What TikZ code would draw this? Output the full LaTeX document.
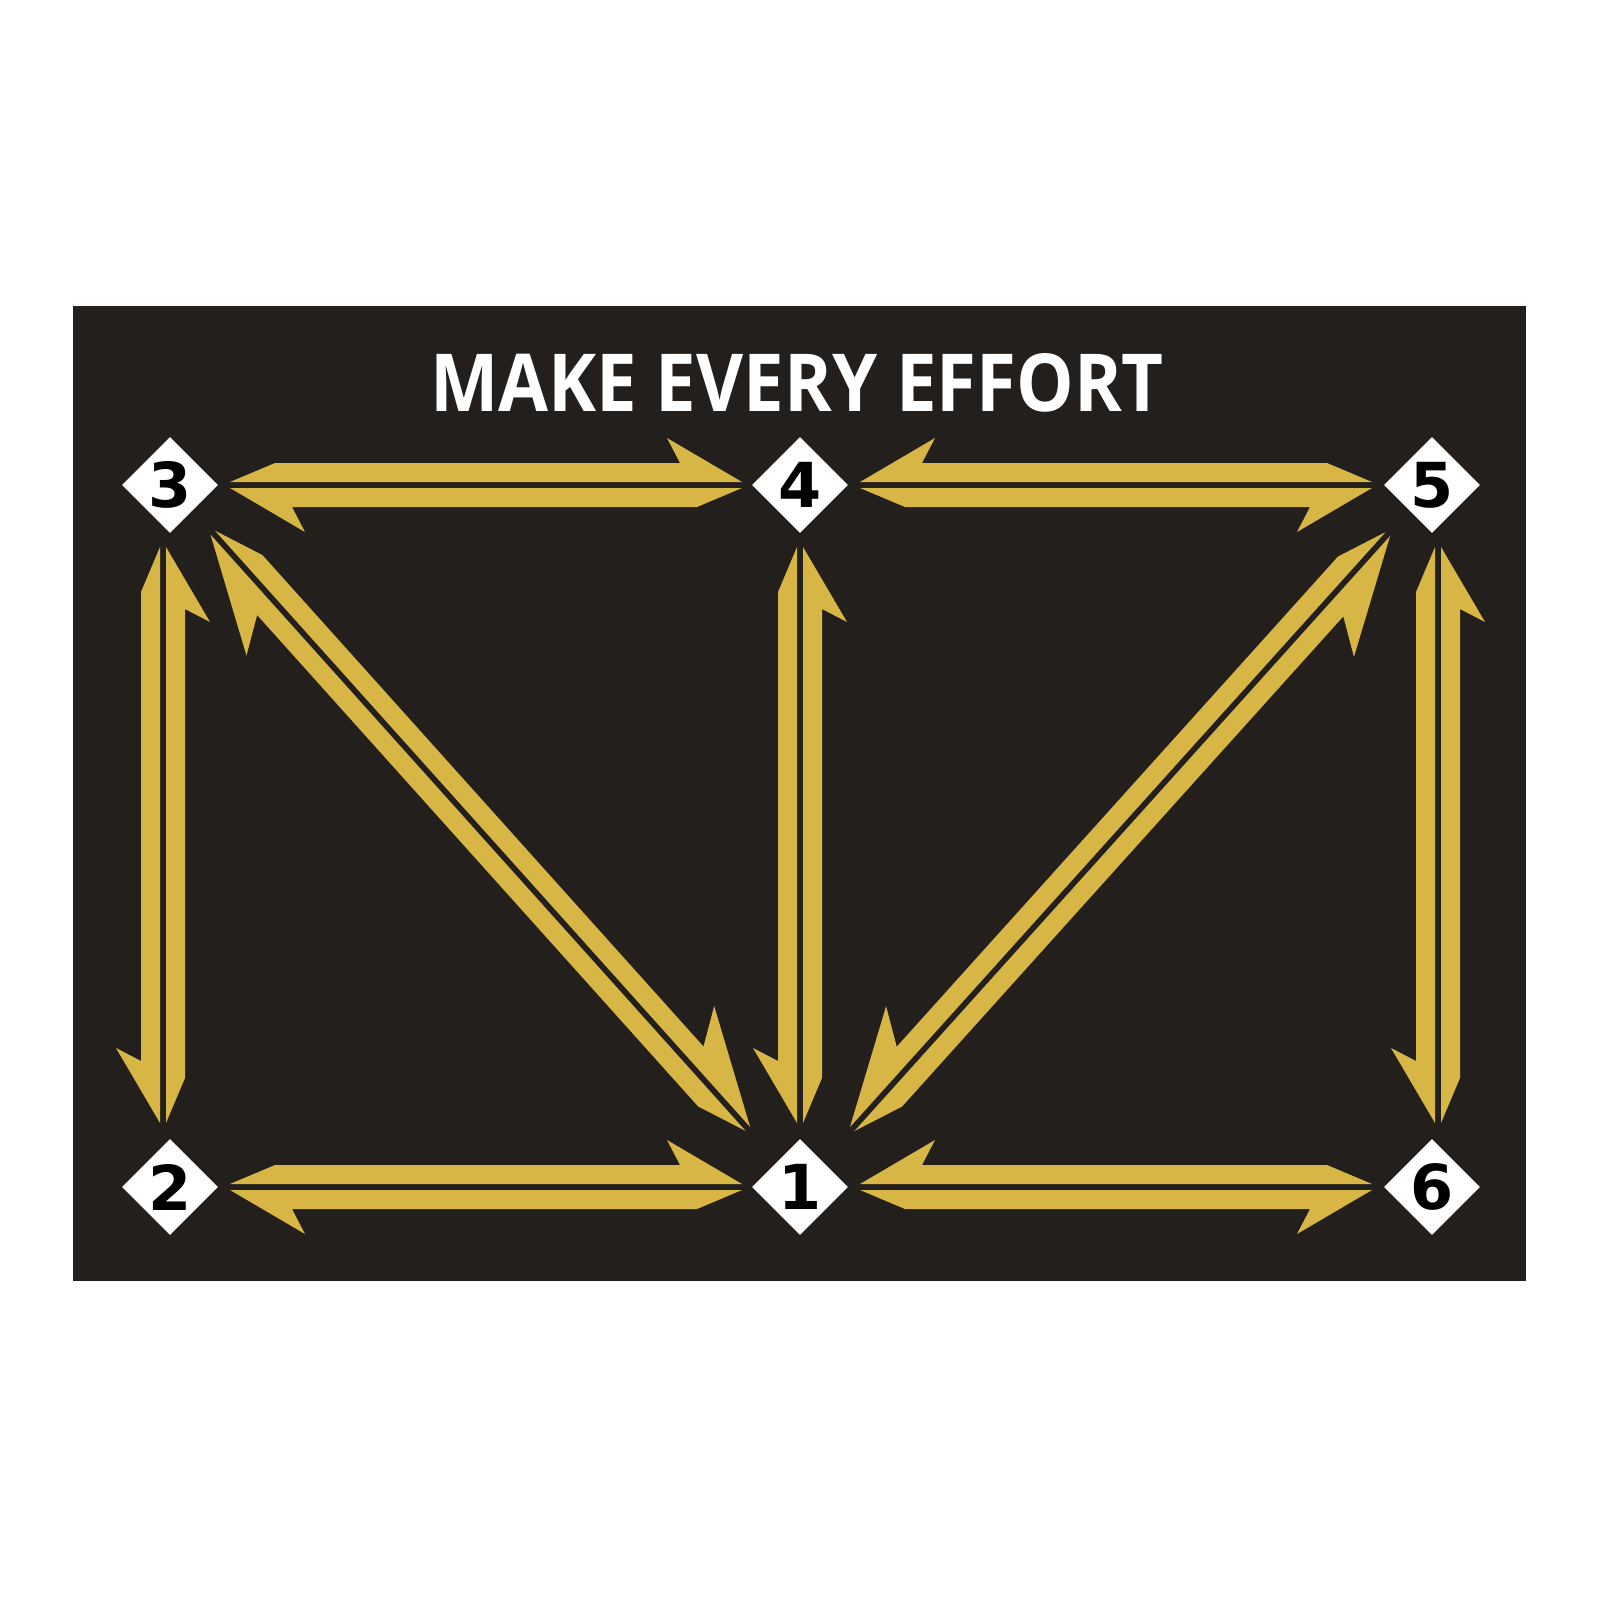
\documentclass[tikz,border=0pt]{standalone}
\usepackage{fontspec}
\setmainfont{Open Sans}
\newfontfamily\digitfont{DejaVu Sans}
\usetikzlibrary{calc,shapes.geometric}
\definecolor{gold}{HTML}{D8B646}
\definecolor{board}{HTML}{231F1C}
\def\Hg{3pt}\def\Hw{22pt}\def\Ht{45pt}
\def\Hb{75pt}\def\Ho{47pt}\def\Hn{62pt}
% #1 tail, #2 tip, #3 side angle, #4 opposite angle, #5 trim at tail, #6 trim at tip
\newcommand\harp[6]{%
  \fill[gold]
    ($(#1)!#5!(#2)!\Hg!#3:(#2)$) --
    ($(#1)!{#5+\Ht}!(#2)!\Hw!#3:(#2)$) --
    ($(#2)!{#6+\Hn}!(#1)!\Hw!#4:(#1)$) --
    ($(#2)!{#6+\Hb}!(#1)!\Ho!#4:(#1)$) --
    ($(#2)!#6!(#1)!\Hg!#4:(#1)$) -- cycle;}
\newcommand\pair[6]{\harp{#1}{#2}{#3}{#4}{#5}{#6}\harp{#2}{#1}{#3}{#4}{#6}{#5}}
\begin{document}
\begin{tikzpicture}[x=1pt,y=-1pt,
  dia/.style={shape=diamond, aspect=1, fill=white, inner sep=0pt, minimum size=96pt,
    text=black, font=\digitfont\bfseries\fontsize{62}{62}\selectfont}]
\useasboundingbox (0,0) rectangle (1601,1601);
\fill[white] (0,0) rectangle (1601,1601);
\fill[board] (73,306) rectangle (1526,1281);
\node[text=white, anchor=base, font=\bfseries\fontsize{80}{80}\selectfont] (title) at (797,411) {\scalebox{0.906}[1]{MAKE EVERY EFFORT}};
\node[dia] (n3) at (170,485) {3};
\node[dia] (n4) at (800,485) {4};
\node[dia] (n5) at (1432,485) {5};
\node[dia] (n2) at (170,1187) {2};
\node[dia] (n1) at (800,1187) {1};
\node[dia] (n6) at (1432,1187) {6};
\coordinate (v3) at ($(n3.center)+(-7,0)$);
\coordinate (v2) at ($(n2.center)+(-7,0)$);
\coordinate (v5) at ($(n5.center)+(6,0)$);
\coordinate (v6) at ($(n6.center)+(6,0)$);
% horizontal
\pair{n3.center}{n4.center}{90}{-90}{60pt}{58pt}
\pair{n4.center}{n5.center}{-90}{90}{60pt}{60pt}
\pair{n2.center}{n1.center}{90}{-90}{60pt}{58pt}
\pair{n1.center}{n6.center}{-90}{90}{60pt}{60pt}
% vertical
\pair{v2}{v3}{-90}{90}{64pt}{62pt}
\pair{n1.center}{n4.center}{-90}{90}{64pt}{62pt}
\pair{v6}{v5}{-90}{90}{64pt}{62pt}
% diagonal
\def\Hb{114pt}\def\Ho{57pt}\def\Hn{91pt}\def\Ht{50pt}
\pair{n3.center}{n1.center}{90}{-90}{64pt}{78pt}
\pair{n5.center}{n1.center}{-90}{90}{66pt}{78pt}
\end{tikzpicture}
\end{document}
